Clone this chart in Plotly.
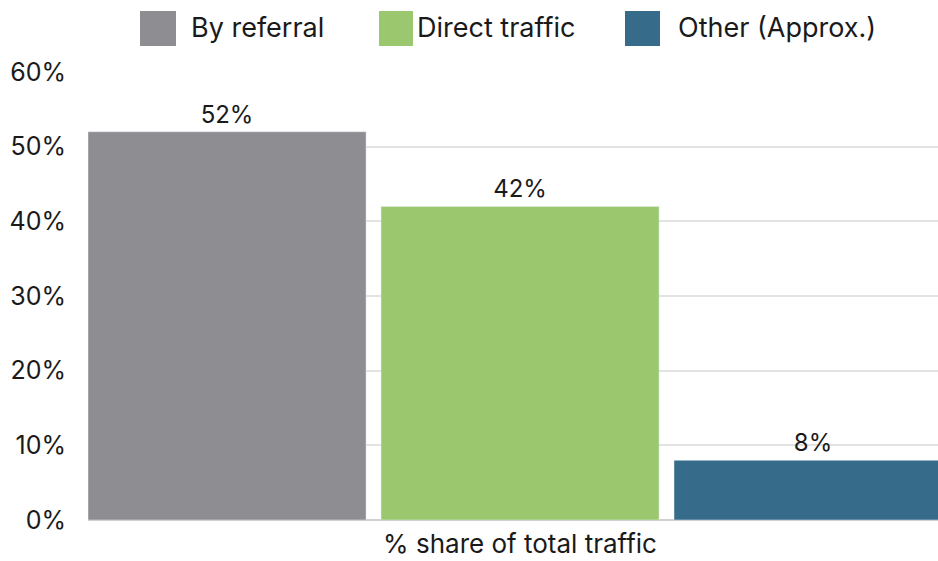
import plotly.graph_objects as go

category = ["% share of total traffic"]
series_names = ["By referral", "Direct traffic", "Other (Approx.)"]
series_values = [[0.52], [0.42], [0.08]]
series_labels = ["52%", "42%", "8%"]
series_colors = ["#8E8D92", "#9BC76E", "#376B8A"]
y_ticks = [0, 0.1, 0.2, 0.3, 0.4, 0.5, 0.6]
y_tick_text = ["0%", "10%", "20%", "30%", "40%", "50%", "60%"]

FONT = "Inter"
TXT = "#1a1a1a"
W, H = 938, 561
ML, MR, MT, MB = 88, 0, 72, 41
plot_w = W - ML - MR
plot_h = H - MT - MB
group_gap = 0.051
px_per_unit = 879.0
x0 = -0.5 + group_gap / 6
x_range = [x0, x0 + plot_w / px_per_unit]

fig = go.Figure()
for name, vals, lab, col in zip(series_names, series_values, series_labels, series_colors):
    fig.add_trace(go.Bar(
        x=category, y=vals, name=name, marker_color=col,
        text=[lab], textposition="outside", cliponaxis=False,
        textfont=dict(family=FONT, size=24, color=TXT),
        showlegend=False,
    ))

# custom legend (large square swatches)
legend_swatch_px = [(140, 176), (379, 413), (625, 660)]
legend_text_px = [189, 415, 676]
def px_to_paper_x(p):
    return (p - ML) / plot_w
def px_to_paper_y(p):
    return (H - MB - p) / plot_h
shapes = []
annotations = []
for (sx0, sx1), tx, name, col in zip(legend_swatch_px, legend_text_px, series_names, series_colors):
    shapes.append(dict(type="rect", xref="paper", yref="paper",
                       x0=px_to_paper_x(sx0), x1=px_to_paper_x(sx1),
                       y0=px_to_paper_y(46), y1=px_to_paper_y(11),
                       fillcolor=col, line=dict(width=0)))
    annotations.append(dict(xref="paper", yref="paper", x=px_to_paper_x(tx), y=px_to_paper_y(28),
                            text=name, showarrow=False, xanchor="left", yanchor="middle",
                            font=dict(family=FONT, size=27, color=TXT)))

fig.update_layout(
    width=W, height=H,
    margin=dict(l=ML, r=MR, t=MT, b=MB, autoexpand=False),
    barmode="group", bargap=0, bargroupgap=group_gap,
    plot_bgcolor="white", paper_bgcolor="white",
    shapes=shapes, annotations=annotations,
    font=dict(family=FONT, color=TXT),
)
fig.update_xaxes(range=x_range, showgrid=False, ticks="", showline=False,
                 ticklabelstandoff=6, automargin=False,
                 tickfont=dict(family=FONT, size=26, color=TXT))
fig.update_yaxes(range=[0, 0.6], tickvals=y_ticks, ticktext=y_tick_text,
                 showgrid=True, gridcolor="#E3E3E3", gridwidth=1.5,
                 zeroline=True, zerolinecolor="#D0D0D0", zerolinewidth=1.5,
                 ticklabelstandoff=21, automargin=False,
                 tickfont=dict(family=FONT, size=25, color=TXT))

fig.write_html("out.html", config={"displayModeBar": False},
               post_script="document.body.style.margin='0';")
